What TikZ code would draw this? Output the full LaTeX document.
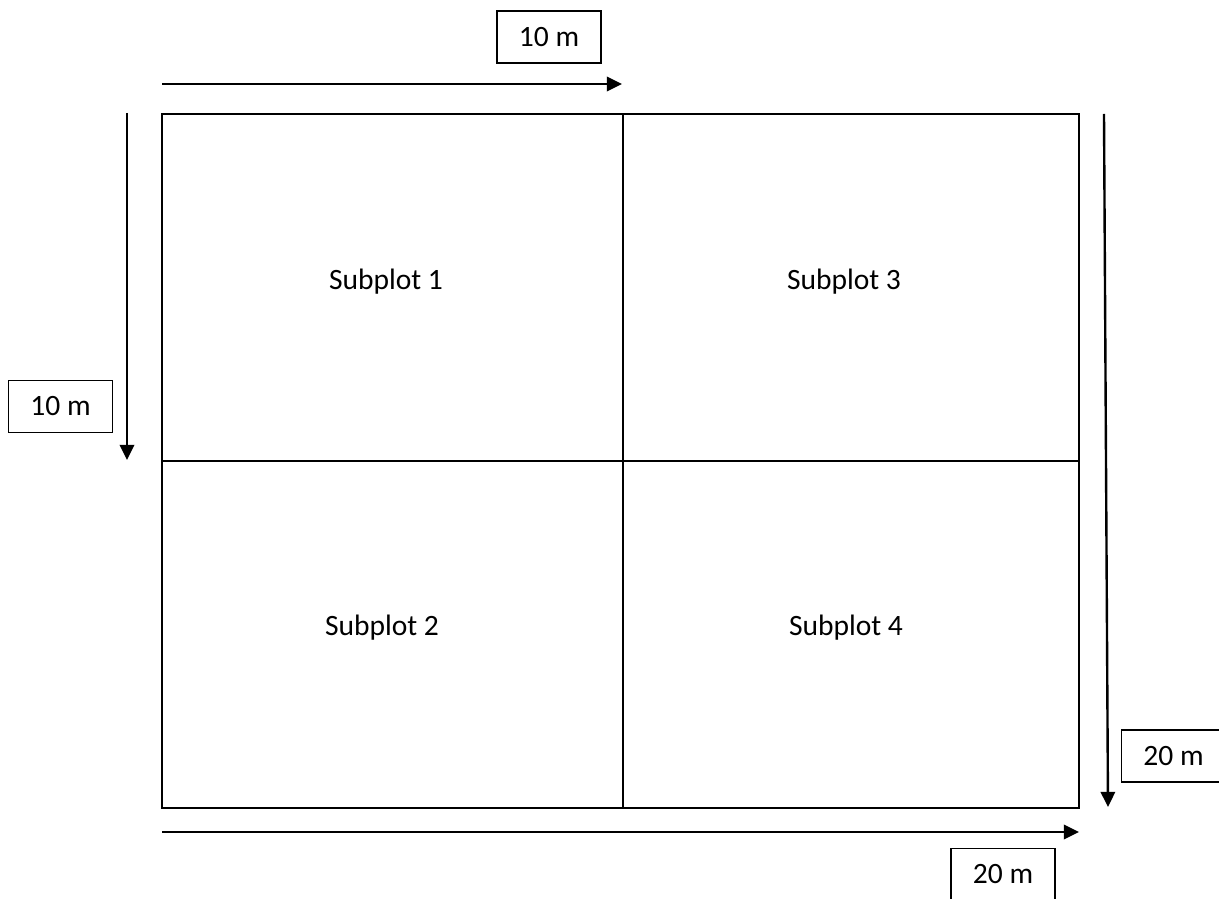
\documentclass[tikz,border=0pt]{standalone}
\usepackage{fontspec}
\setmainfont{Carlito}
\usetikzlibrary{positioning, arrows.meta, calc}

\begin{document}
\begin{tikzpicture}[x=0.025cm, y=-0.025cm, font=\fontsize{21}{25}\selectfont,
  >={Triangle[length=3.8mm, width=3.6mm]},
  cell/.style={draw, line width=1.6pt, minimum height=8.675cm, inner sep=0pt},
  dim/.style={draw, line width=1.2pt, minimum width=2.6cm, minimum height=1.3cm, inner sep=0pt},
  arr/.style={->, line width=1.7pt}]
  \useasboundingbox (0,0) rectangle (1219,899);
  \clip (0,0) rectangle (1219,899);
  % the four subplots
  \node[cell, minimum width=11.525cm] (sp1) at (392.5,287.5) {};
  \node[cell, minimum width=11.4cm] (sp3) at (851,287.5) {};
  \node[cell, minimum width=11.525cm] (sp2) at (392.5,634.5) {};
  \node[cell, minimum width=11.4cm] (sp4) at (851,634.5) {};
  \node (t1) at (386,282) {Subplot 1};
  \node (t3) at (844,282) {Subplot 3};
  \node (t2) at (382,628) {Subplot 2};
  \node (t4) at (846,628) {Subplot 4};
  % dimension labels
  \node[dim] (top) at (549,37) {10 m};
  \node[dim] (left) at (60.5,406.5) {10 m};
  \node[dim] (right) at (1173.5,756) {20 m};
  \node[dim] (bot) at (1003,874.5) {20 m};
  % arrows
  \coordinate (a0) at (162,84);   \coordinate (a1) at (622,84);
  \coordinate (b0) at (127,113);  \coordinate (b1) at (127,460);
  \coordinate (c0) at (1104,114); \coordinate (c1) at (1108,807);
  \coordinate (d0) at (162,832);  \coordinate (d1) at (1079,832);
  \draw[arr] (a0) -- (a1);
  \draw[arr] (b0) -- (b1);
  \draw[arr] (c0) -- (c1);
  \draw[arr] (d0) -- (d1);
\end{tikzpicture}
\end{document}
